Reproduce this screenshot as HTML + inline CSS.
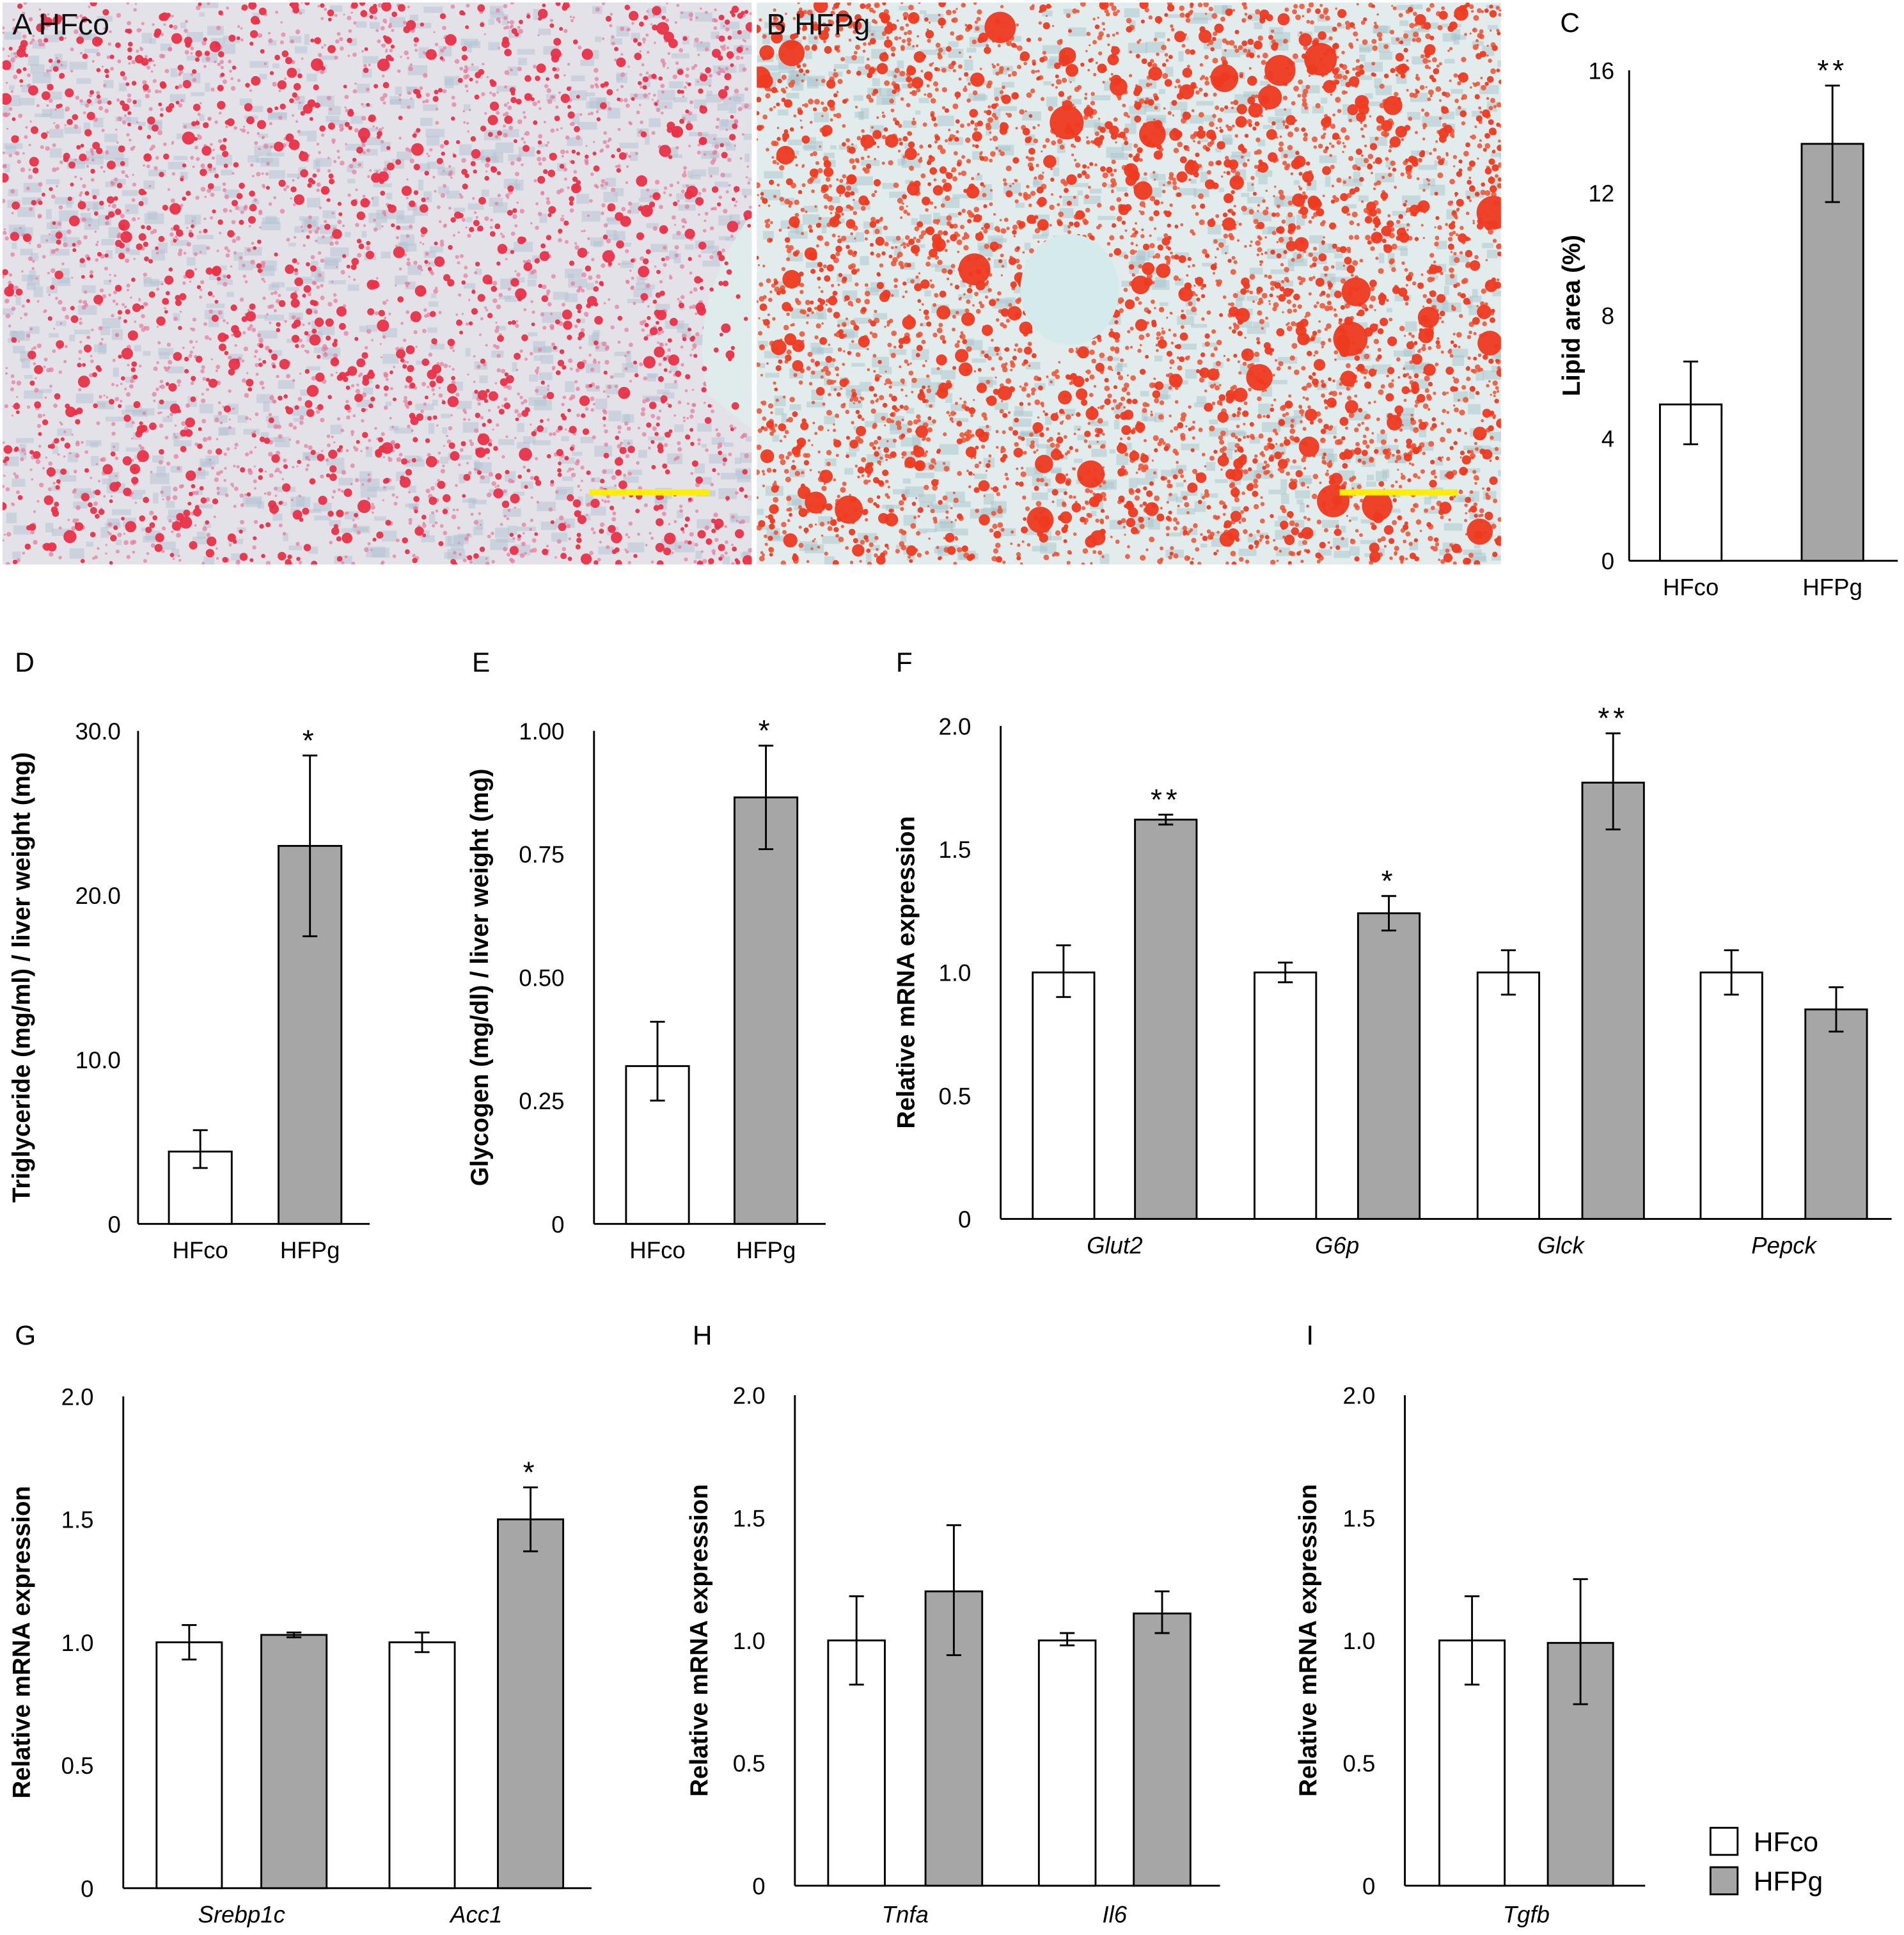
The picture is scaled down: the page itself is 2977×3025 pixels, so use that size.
<!DOCTYPE html>
<html><head><meta charset="utf-8"><style>
html,body{margin:0;padding:0;background:#fff}
svg{display:block;font-family:"Liberation Sans",Arial,sans-serif}
</style></head><body>
<svg id="fig" width="2977" height="3025" viewBox="0 0 1545 1570" xmlns="http://www.w3.org/2000/svg">
<defs>
<clipPath id="clipA"><rect x="2" y="2" width="608" height="456"/></clipPath>
<clipPath id="clipB"><rect x="614" y="2" width="604" height="456"/></clipPath>
</defs>
<g id="micro"></g>
<g id="charts"></g>
<g>
<rect x="1388" y="1483" width="22" height="22" fill="#fff" stroke="#000" stroke-width="1.5"/>
<text x="1423" y="1502" font-size="22">HFco</text>
<rect x="1388" y="1515" width="22" height="22" fill="#a6a6a6" stroke="#000" stroke-width="1.5"/>
<text x="1423" y="1534" font-size="22">HFPg</text>
</g>
</svg>
<script>
// Panel C
const cCats=["HFco","HFPg"], cVals=[5.1,13.6], cLo=[3.8,11.7], cHi=[6.5,15.5], cTicks=["0","4","8","12","16"], cSig=["","**"];
// Panel D
const dCats=["HFco","HFPg"], dVals=[4.4,23.0], dLo=[3.4,17.5], dHi=[5.7,28.5], dTicks=["0","10.0","20.0","30.0"], dSig=["","*"];
// Panel E
const eCats=["HFco","HFPg"], eVals=[0.32,0.865], eLo=[0.25,0.76], eHi=[0.41,0.97], eTicks=["0","0.25","0.50","0.75","1.00"], eSig=["","*"];
// Panel F
const fGenes=["Glut2","G6p","Glck","Pepck"];
const fHFco=[1.0,1.0,1.0,1.0], fHFcoLo=[0.9,0.96,0.91,0.91], fHFcoHi=[1.11,1.04,1.09,1.09];
const fHFPg=[1.62,1.24,1.77,0.85], fHFPgLo=[1.6,1.17,1.58,0.76], fHFPgHi=[1.64,1.31,1.97,0.94];
const fSig=["**","*","**",""];
const exprTicks=["0","0.5","1.0","1.5","2.0"];
// Panel G
const gGenes=["Srebp1c","Acc1"];
const gHFco=[1.0,1.0], gHFcoLo=[0.93,0.96], gHFcoHi=[1.07,1.04];
const gHFPg=[1.03,1.5], gHFPgLo=[1.02,1.37], gHFPgHi=[1.04,1.63];
const gSig=["","*"];
// Panel H
const hGenes=["Tnfa","Il6"];
const hHFco=[1.0,1.0], hHFcoLo=[0.82,0.98], hHFcoHi=[1.18,1.03];
const hHFPg=[1.2,1.11], hHFPgLo=[0.94,1.03], hHFPgHi=[1.47,1.2];
const hSig=["",""];
// Panel I
const iGenes=["Tgfb"];
const iHFco=[1.0], iHFcoLo=[0.82], iHFcoHi=[1.18];
const iHFPg=[0.99], iHFPgLo=[0.74], iHFPgHi=[1.25];
const iSig=[""];

const NS="http://www.w3.org/2000/svg";
const charts=document.getElementById('charts');
function mk(tag,attrs,parent,txt){const e=document.createElementNS(NS,tag);for(const k in attrs)e.setAttribute(k,attrs[k]);if(txt!==undefined)e.textContent=txt;parent.appendChild(e);return e;}

function chart(c){
  const g=mk('g',{},charts);
  
  
  const ys=v=>c.y0-(v/c.max)*(c.y0-c.yTop);
  const l=mk('text',{x:c.letterX,y:c.letterY,'font-size':22},g,c.letter);
  
  
  const ya=mk('line',{x1:c.axX,y1:c.yTop,x2:c.axX,y2:c.y0,stroke:'#000','stroke-width':1.5},g);
  
  
  const xa=mk('line',{x1:c.axX,y1:c.y0,x2:c.xEnd,y2:c.y0,stroke:'#000','stroke-width':1.5},g);
  
  
  c.ticks.forEach((t,i)=>{
    const v=c.max*i/(c.ticks.length-1);
    const tt=mk('text',{x:c.axX-(c.gap||24),y:ys(v)+7,'font-size':19,'text-anchor':'end'},g,t);
    
    
  });
  const cy=(c.y0+c.yTop)/2;
  const ti=mk('text',{x:c.titleX,y:cy,'font-size':20,'font-weight':'bold','text-anchor':'middle',transform:`rotate(-90 ${c.titleX} ${cy})`},g,c.title);
  
  
  c.bars.forEach(b=>{
    const r=mk('rect',{x:b.x,y:ys(b.v),width:b.w,height:c.y0-ys(b.v),fill:b.gray?'#a6a6a6':'#fff',stroke:'#000','stroke-width':1.5},g);
    
    
    const cx=b.x+b.w/2;
    const e=mk('path',{d:`M${cx} ${ys(b.lo)}V${ys(b.hi)}M${cx-6} ${ys(b.lo)}H${cx+6}M${cx-6} ${ys(b.hi)}H${cx+6}`,stroke:'#000','stroke-width':1.5,fill:'none'},g);
    
    
    if(b.sig){
      const s=mk('text',{x:cx,y:ys(b.hi)-4,'font-size':24,'text-anchor':'middle','letter-spacing':'3'},g,b.sig);
      
      
    }
  });
  c.labels.forEach(lb=>{
    const t=mk('text',{x:lb.x,y:c.labelY,'font-size':19,'text-anchor':'middle','font-style':lb.italic?'italic':'normal'},g,lb.t);
    
    
  });
}
function simple(name,letter,lx,ly,axX,y0,yTop,max,xEnd,ticks,title,titleX,xs,w,cats,vals,lo,hi,sig,labelY,gap){
  chart({name,letter,letterX:lx,letterY:ly,axX,y0,yTop,max,xEnd,ticks,title,titleX,labelY,gap,
    bars:cats.map((k,i)=>({x:xs[i],w,v:vals[i],lo:lo[i],hi:hi[i],gray:i===1,sig:sig[i]})),
    labels:cats.map((k,i)=>({x:xs[i]+w/2,t:k}))});
}
simple('chart-c-lipid-area','C',1266,26,1322,455,57,16,1540,cTicks,'Lipid area (%)',1282,[1347,1462],50,cCats,cVals,cLo,cHi,cSig,483,12);
simple('chart-d-triglyceride','D',12,545,112,993,593,30,300,dTicks,'Triglyceride (mg/ml) / liver weight (mg)',24,[137,226],51,dCats,dVals,dLo,dHi,dSig,1021,14);
simple('chart-e-glycogen','E',383,545,482,993,593,1,670,eTicks,'Glycogen (mg/dl) / liver weight (mg)',396,[508,596],51,eCats,eVals,eLo,eHi,eSig,1021,24);

function grouped(name,letter,lx,ly,axX,y0,yTop,xEnd,titleX,genes,wx,gx,w,a,aLo,aHi,b,bLo,bHi,sig,labelY){
  const bars=[],labels=[];
  genes.forEach((gname,i)=>{
    bars.push({x:wx[i],w,v:a[i],lo:aLo[i],hi:aHi[i],gray:false,sig:''});
    bars.push({x:gx[i],w,v:b[i],lo:bLo[i],hi:bHi[i],gray:true,sig:sig[i]});
    labels.push({x:(wx[i]+gx[i]+w)/2,t:gname,italic:true});
  });
  chart({name,letter,letterX:lx,letterY:ly,axX,y0,yTop,max:2,xEnd,ticks:exprTicks,title:'Relative mRNA expression',titleX,labelY,bars,labels});
}
grouped('chart-f-glucose-genes','F',727,545,812,989,589,1535,742,fGenes,[838,1018,1199,1380],[921,1102,1284,1465],50,fHFco,fHFcoLo,fHFcoHi,fHFPg,fHFPgLo,fHFPgHi,fSig,1017);
grouped('chart-g-lipogenic-genes','G',12,1091,100,1532,1133,480,24,gGenes,[127,316],[212,404],53,gHFco,gHFcoLo,gHFcoHi,gHFPg,gHFPgLo,gHFPgHi,gSig,1560);
grouped('chart-h-inflammatory-genes','H',562,1091,645,1530,1132,990,574,hGenes,[672,843],[751,920],46,hHFco,hHFcoLo,hHFcoHi,hHFPg,hHFPgLo,hHFPgHi,hSig,1560);
grouped('chart-i-fibrosis-genes','I',1060,1091,1140,1530,1132,1335,1068,iGenes,[1168],[1256],53,iHFco,iHFcoLo,iHFcoHi,iHFPg,iHFPgLo,iHFPgHi,iSig,1560);

// Micrograph textures (deterministic decorative pattern)
const micro=document.getElementById('micro');
function micrograph(name,x0,w,clip,dense,extra){
  const g=mk('g',{'clip-path':'url(#'+clip+')'},micro);
  
  
  mk('rect',{x:x0,y:2,width:w,height:456,fill:dense?'#e2ecec':'#e3e2e8'},g);
  let s=x0*7+13;
  const rnd=()=>{s=(s*16807)%2147483647;return s/2147483647;};
  for(let i=0;i<900;i++){mk('rect',{x:x0+rnd()*w,y:2+rnd()*450,width:4+rnd()*12,height:3+rnd()*6,fill:dense?'#a8c4cc':'#b4c2d4',opacity:0.5},g);}
  if(!dense){for(let i=0;i<2500;i++){mk('circle',{cx:x0+rnd()*w,cy:2+rnd()*456,r:0.8+rnd()*1.2,fill:'#e8789a',opacity:0.7},g);}}
  else{for(let i=0;i<3500;i++){mk('circle',{cx:x0+rnd()*w,cy:2+rnd()*456,r:0.8+rnd()*1.6,fill:'#f05030',opacity:0.85},g);}}
  extra(g);
  const n=dense?1400:1300;
  for(let i=0;i<n;i++){
    let r=1.5+rnd()*rnd()*(dense?5:4);
    if(dense&&rnd()<0.03)r=6+rnd()*8;
    mk('circle',{cx:x0+rnd()*w,cy:2+rnd()*456,r,fill:dense?'#ee3a20':'#ea3048',opacity:0.95},g);
  }
}
micrograph('micrograph-a-hfco',2,608,'clipA',false,g=>{
  const v2=mk('path',{d:'M612 170 Q555 250 575 320 L612 350 Z',fill:'#dfeceb'},g);
  
  
});
micrograph('micrograph-b-hfpg',614,604,'clipB',true,g=>{});
const v1=mk('ellipse',{cx:868,cy:235,rx:40,ry:45,fill:'#d5eaea'},micro);


const la=mk('text',{x:10,y:28,'font-size':24,fill:'#111'},micro,'A  HFco');


const lb=mk('text',{x:622,y:28,'font-size':24,fill:'#111'},micro,'B  HFPg');


const sb1=mk('rect',{x:478,y:397,width:98,height:5,fill:'#ffee00'},micro);


const sb2=mk('rect',{x:1087,y:397,width:96,height:5,fill:'#ffee00'},micro);


</script>
</body></html>
